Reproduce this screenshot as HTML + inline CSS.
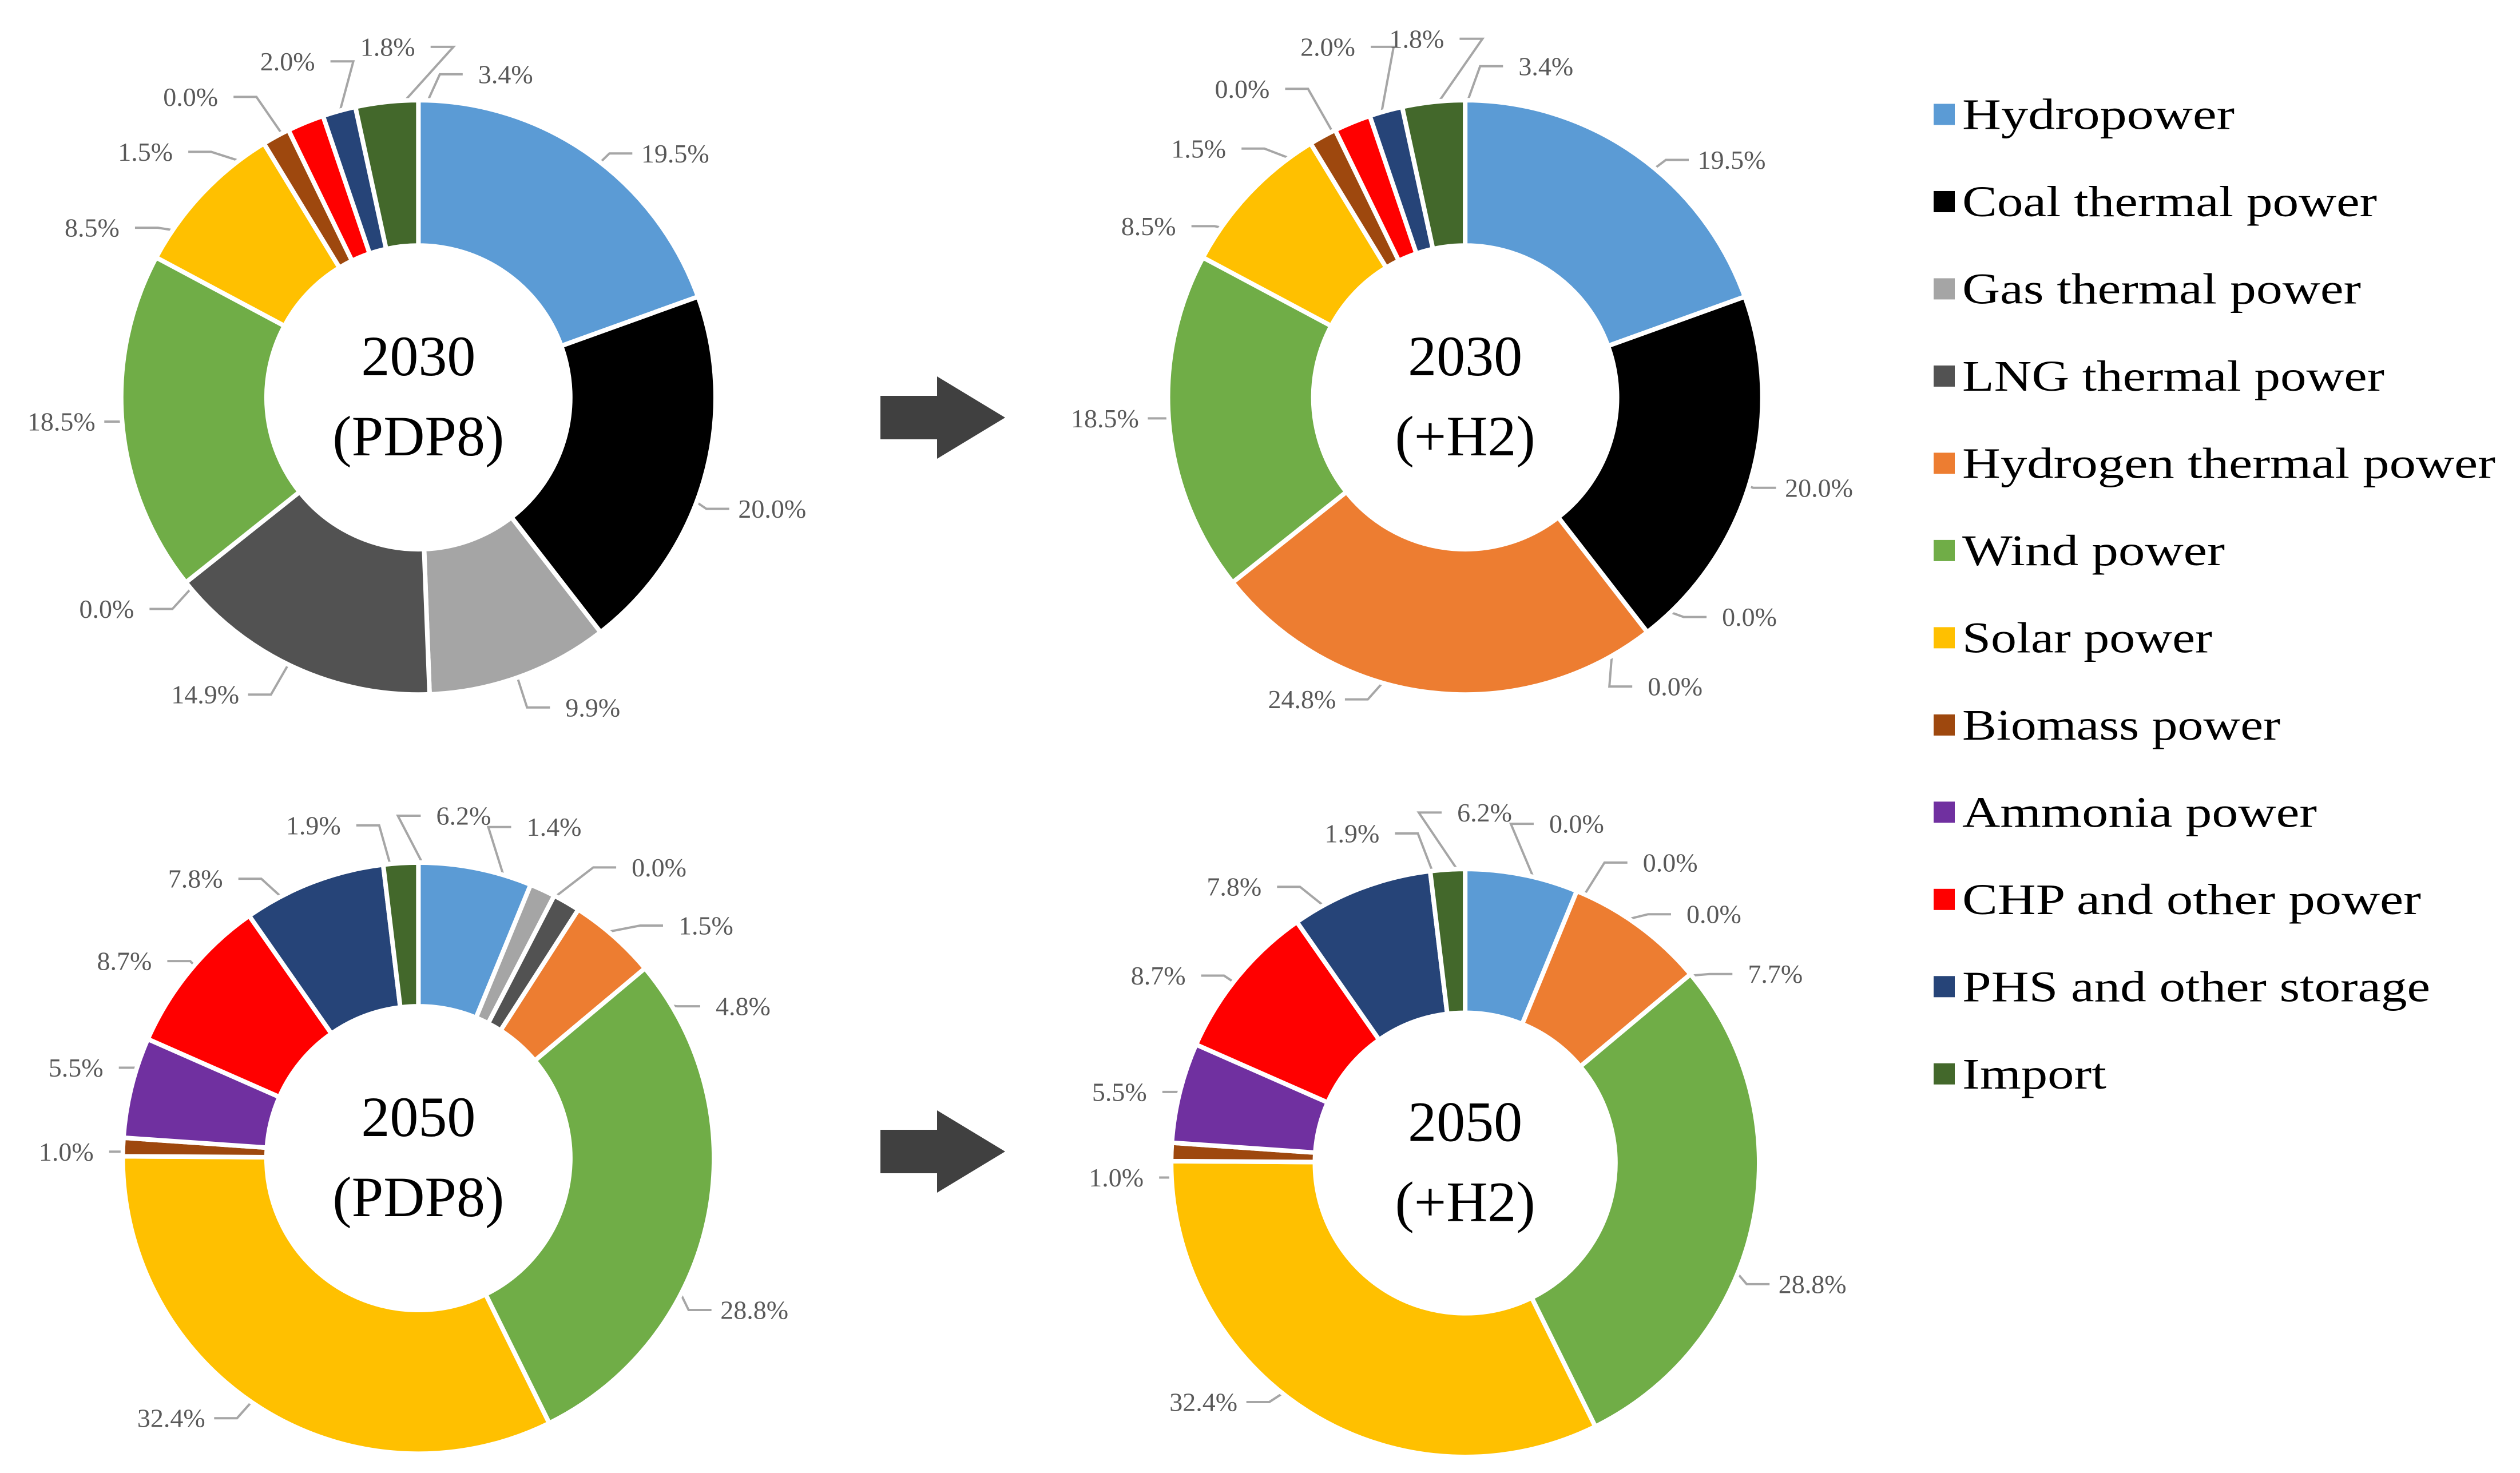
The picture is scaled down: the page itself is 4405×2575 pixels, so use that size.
<!DOCTYPE html>
<html><head><meta charset="utf-8"><style>
html,body{margin:0;padding:0;background:#fff;}
svg{display:block;}
</style></head><body>
<svg id="fig" width="4405" height="2575" viewBox="0 0 4405 2575" xmlns="http://www.w3.org/2000/svg">
<g id="charts"></g>
<g id="arrows">
  <path d="M1539 692 H1638 V658 L1757 730 L1638 802 V768 H1539 Z" fill="#404040"/>
  <path d="M1539 1975 H1638 V1941 L1757 2013 L1638 2085 V2051 H1539 Z" fill="#404040"/>
</g>
<g id="legend"></g>
</svg>
<script>
const categories = ["Hydropower","Coal thermal power","Gas thermal power","LNG thermal power","Hydrogen thermal power","Wind power","Solar power","Biomass power","Ammonia power","CHP and other power","PHS and other storage","Import"];
const colors = ["#5B9BD5","#000000","#A5A5A5","#525252","#ED7D31","#70AD47","#FFC000","#9E480E","#7030A0","#FF0000","#264478","#43682B"];
const values2030PDP8 = [19.5,20.0,9.9,14.9,0.0,18.5,8.5,1.5,0.0,2.0,1.8,3.4];
const values2030H2 = [19.5,20.0,0.0,0.0,24.8,18.5,8.5,1.5,0.0,2.0,1.8,3.4];
const values2050PDP8 = [6.2,0.0,1.4,1.5,4.8,28.8,32.4,1.0,5.5,8.7,7.8,1.9];
const values2050H2 = [6.2,0.0,0.0,0.0,7.7,28.8,32.4,1.0,5.5,8.7,7.8,1.9];
const chartTitles = [["2030","(PDP8)"],["2030","(+H2)"],["2050","(PDP8)"],["2050","(+H2)"]];

const S = 4405/1560;
const NS = "http://www.w3.org/2000/svg";
function mk(tag, attrs, parent){ const e=document.createElementNS(NS,tag); for(const k in attrs) e.setAttribute(k,attrs[k]); if(parent) parent.appendChild(e); return e; }

const layouts = [
 {cx:259,cy:246,R:184,r:94,name:"donut-2030-pdp8",
  lab:[[418,95],[478,315],[367,438],[127,430],[66,377],[38,261],[57,141],[90,94],[118,60],[178,38],[240,29],[313,46]]},
 {cx:907,cy:246,R:184,r:94,name:"donut-2030-h2",
  lab:[[1072,99],[1126,302],[1083,382],[1037,425],[806,433],[684,259],[711,140],[742,92],[769,55],[822,29],[877,24],[957,41]]},
 {cx:259,cy:717,R:183,r:94,name:"donut-2050-pdp8",
  lab:[[287,505],[408,537],[343,512],[437,573],[460,623],[467,811],[106,878],[41,713],[47,661],[77,595],[121,544],[194,511]]},
 {cx:907,cy:720,R:182,r:93,name:"donut-2050-h2",
  lab:[[919,503],[976,510],[1034,534],[1061,566],[1099,603],[1122,795],[745,868],[691,729],[693,676],[717,604],[764,549],[837,516]]}
];
const allValues = [values2030PDP8, values2030H2, values2050PDP8, values2050H2];

function pt(cx,cy,rad,frac){ const a=frac*2*Math.PI - Math.PI/2; return [cx+rad*Math.cos(a), cy+rad*Math.sin(a)]; }

const chartsG = document.getElementById('charts');
layouts.forEach((L,ci)=>{
  const vals = allValues[ci];
  const total = vals.reduce((a,b)=>a+b,0);
  const cx=L.cx*S, cy=L.cy*S, R=L.R*S, r=L.r*S;
  const g = mk('g',{},chartsG);
  
  
  const lg = mk('g',{},g);
  
  
  let acc=0;
  vals.forEach((v,i)=>{
    const f0=acc/total, f1=(acc+v)/total; acc+=v;
    if(v>0){
      const [x0,y0]=pt(cx,cy,R,f0),[x1,y1]=pt(cx,cy,R,f1),[x2,y2]=pt(cx,cy,r,f1),[x3,y3]=pt(cx,cy,r,f0);
      const large=(f1-f0)>0.5?1:0;
      const p = mk('path',{d:`M${x0} ${y0} A${R} ${R} 0 ${large} 1 ${x1} ${y1} L${x2} ${y2} A${r} ${r} 0 ${large} 0 ${x3} ${y3} Z`,fill:colors[i],stroke:"#fff","stroke-width":8,"stroke-linejoin":"round"},g);
      
      
    }
    const fm=(f0+f1)/2;
    const [mx,my]=pt(cx,cy,(R+r)/2+ (v<3?40:0),fm);
    const lx=L.lab[i][0]*S, ly=L.lab[i][1]*S;
    const left = lx < cx;
    const ex = left ? lx+75 : lx-75;
    const ln = mk('polyline',{points:`${ex},${ly} ${ex+(left?40:-40)},${ly} ${mx},${my}`,fill:"none",stroke:"#a6a6a6","stroke-width":4},lg);
    
    
    const t = mk('text',{x:lx,y:ly,"text-anchor":"middle","dominant-baseline":"central","font-family":"'Liberation Serif',serif","font-size":46,fill:"#595959"},g);
    t.textContent = v.toFixed(1)+'%';
    
    
  });
  chartTitles[ci].forEach((s,k)=>{
    const t = mk('text',{x:cx,y:cy+(k===0?-72:68),"text-anchor":"middle","dominant-baseline":"central","font-family":"'Liberation Serif',serif","font-size":100,fill:"#000"},g);
    t.textContent=s;
    
    
  });
});

const legendWidths = [476,725,697,738,932,459,437,556,620,802,818,252];
const legendG = document.getElementById('legend');
categories.forEach((c,i)=>{
  const y = (71 + i*54.0)*S;
  const it = mk('g',{},legendG);
  
  
  mk('rect',{x:3380,y:y-19,width:37,height:37,fill:colors[i]},it);
  const t = mk('text',{x:3430,y:y,"dominant-baseline":"central","font-family":"'Liberation Serif',serif","font-size":76,fill:"#000",textLength:legendWidths[i],lengthAdjust:"spacingAndGlyphs"},it);
  t.textContent=c;
});
</script>
</body></html>
